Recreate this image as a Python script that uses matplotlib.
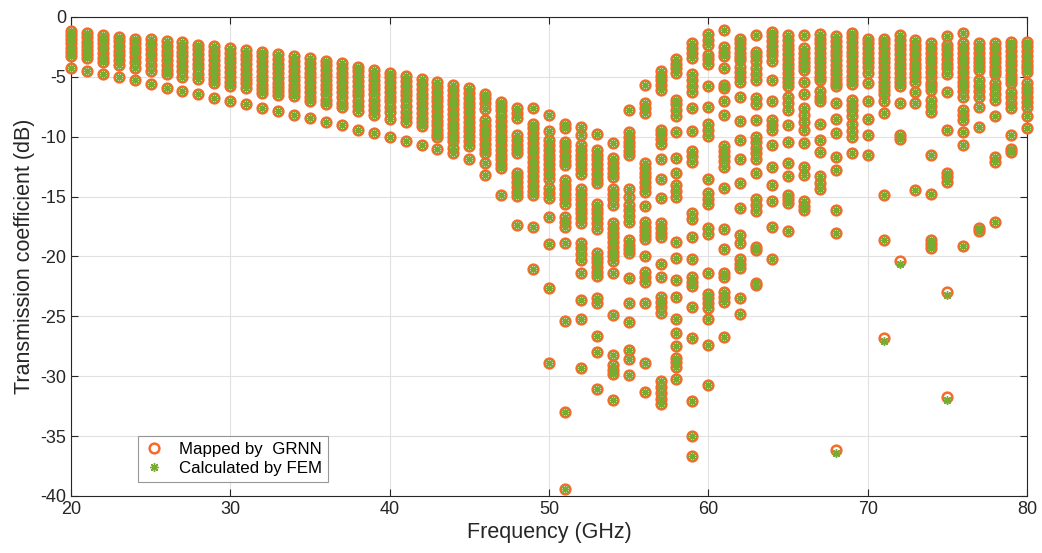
import matplotlib
matplotlib.use("Agg")
import matplotlib.pyplot as plt
from matplotlib.lines import Line2D

# Transmission coefficient (dB) per frequency column.
freqs = list(range(20, 81))

grnn_20_29 = [
    [-1.2, -1.5, -1.85, -2.2, -2.55, -2.9, -3.3, -4.3],
    [-1.35, -1.7, -2.05, -2.4, -2.75, -3.1, -3.45, -4.5],
    [-1.5, -1.85, -2.2, -2.6, -3.0, -3.4, -3.8, -4.8],
    [-1.65, -2.0, -2.4, -2.8, -3.2, -3.6, -4.0, -5.05],
    [-1.8, -2.15, -2.55, -2.95, -3.35, -3.8, -4.3, -5.3],
    [-1.85, -2.25, -2.65, -3.05, -3.5, -4.0, -4.5, -5.6],
    [-2.0, -2.4, -2.8, -3.2, -3.6, -4.0, -4.4, -4.8, -5.9],
    [-2.1, -2.5, -2.9, -3.3, -3.7, -4.1, -4.55, -5.0, -6.15],
    [-2.3, -2.7, -3.1, -3.5, -3.9, -4.3, -4.75, -5.2, -6.45],
    [-2.4, -2.8, -3.2, -3.6, -4.0, -4.4, -4.8, -5.15, -5.5, -6.75],
]
grnn_30_39 = [
    [-2.6, -3.0, -3.4, -3.8, -4.2, -4.6, -5.0, -5.4, -5.75, -7.0],
    [-2.75, -3.15, -3.55, -3.95, -4.35, -4.75, -5.15, -5.55, -5.95, -7.3],
    [-2.9, -3.3, -3.7, -4.1, -4.5, -4.9, -5.3, -5.7, -6.05, -6.35, -7.6],
    [-3.1, -3.5, -3.9, -4.3, -4.7, -5.1, -5.5, -5.85, -6.2, -6.5, -7.85],
    [-3.3, -3.7, -4.1, -4.5, -4.9, -5.3, -5.65, -6.0, -6.3, -6.6, -8.2],
    [-3.45, -3.85, -4.25, -4.65, -5.05, -5.45, -5.85, -6.25, -6.65, -7.05, -8.45],
    [-3.65, -4.05, -4.45, -4.85, -5.25, -5.65, -6.05, -6.45, -6.9, -7.3, -8.75],
    [-3.85, -4.25, -4.65, -5.05, -5.45, -5.85, -6.25, -6.7, -7.15, -7.55, -9.05],
    [-4.15, -4.55, -4.95, -5.35, -5.75, -6.15, -6.55, -7.0, -7.45, -7.85, -9.4],
    [-4.45, -4.85, -5.25, -5.65, -6.05, -6.45, -6.9, -7.35, -7.8, -8.2, -9.7],
]
grnn_40_49 = [
    [-4.65, -5.05, -5.45, -5.85, -6.25, -6.65, -7.05, -7.5, -7.95, -8.5, -10.05],
    [-4.95, -5.35, -5.75, -6.15, -6.55, -6.95, -7.4, -7.9, -8.35, -8.8, -10.35],
    [-5.2, -5.6, -6.0, -6.4, -6.8, -7.2, -7.6, -8.0, -8.4, -8.75, -9.1, -10.7],
    [-5.45, -5.85, -6.25, -6.65, -7.05, -7.45, -7.85, -8.25, -8.65, -9.05,
     -9.45, -9.75, -10.05, -11.05],
    [-5.7, -6.1, -6.5, -6.9, -7.3, -7.7, -8.1, -8.5, -8.9, -9.3, -9.7, -10.05,
     -10.35, -10.95, -11.4],
    [-5.95, -6.35, -6.75, -7.15, -7.55, -7.95, -8.35, -8.75, -9.15, -9.55,
     -9.95, -10.35, -10.75, -11.85],
    [-6.4, -6.8, -7.2, -7.65, -8.6, -9.0, -9.4, -9.8, -10.2, -10.6, -11.0,
     -11.4, -12.2, -13.2],
    [-7.1, -7.45, -7.8, -8.3, -8.7, -9.1, -9.5, -9.9, -10.3, -10.7, -11.1,
     -11.5, -11.9, -12.3, -12.6, -14.9],
    [-7.6, -8.0, -8.45, -9.85, -10.25, -10.65, -11.05, -11.4, -13.0, -13.4,
     -13.8, -14.2, -14.6, -14.95, -17.4],
    [-7.6, -8.9, -9.3, -9.7, -10.1, -10.5, -10.9, -11.3, -11.7, -12.1, -12.5,
     -12.9, -13.3, -13.7, -14.1, -14.5, -14.9, -17.55, -21.05],
]
grnn_50_59 = [
    [-8.2, -9.5, -10.3, -10.7, -11.1, -11.5, -11.9, -12.3, -12.7, -13.1,
     -13.5, -14.3, -14.7, -15.1, -16.7, -18.95, -22.65, -28.9],
    [-8.9, -9.3, -10.4, -10.8, -11.2, -11.6, -12.0, -12.4, -13.6, -14.0,
     -14.4, -14.8, -15.2, -15.6, -16.7, -17.1, -17.55, -18.85, -25.35, -33.0,
     -39.4],
    [-9.2, -9.85, -10.7, -11.1, -11.5, -11.9, -12.3, -12.7, -13.1, -14.4,
     -14.8, -15.2, -15.6, -16.0, -16.4, -16.8, -17.2, -18.9, -19.3, -19.8,
     -20.3, -21.35, -23.6, -25.2, -29.3],
    [-9.8, -11.1, -11.5, -11.9, -12.3, -12.7, -13.1, -13.5, -13.9, -15.6,
     -16.0, -16.4, -16.8, -17.2, -17.7, -19.7, -20.1, -20.5, -20.9, -21.3,
     -21.6, -23.5, -23.85, -26.6, -28.0, -31.05],
    [-10.5, -11.8, -12.2, -12.6, -13.0, -13.4, -14.4, -14.8, -15.2, -15.7,
     -17.2, -17.6, -18.0, -18.4, -18.8, -19.2, -19.6, -20.0, -20.4, -21.4,
     -24.9, -28.2, -29.1, -29.45, -29.8, -32.0],
    [-7.75, -9.6, -10.0, -10.4, -10.8, -11.2, -11.5, -14.4, -15.0, -15.7,
     -16.1, -16.6, -17.1, -18.6, -19.0, -19.35, -19.7, -21.8, -23.9, -25.5,
     -27.8, -28.6, -29.9],
    [-5.65, -7.2, -7.6, -8.0, -12.2, -12.6, -13.0, -13.4, -13.8, -14.2, -14.6,
     -15.8, -17.1, -17.5, -17.9, -18.2, -18.5, -20.0, -21.3, -21.7, -22.1,
     -23.9, -28.9, -31.3],
    [-4.5, -4.9, -5.3, -5.7, -6.1, -9.4, -9.8, -10.2, -10.6, -11.9, -13.5,
     -15.1, -17.2, -17.6, -18.0, -18.4, -20.6, -21.7, -23.4, -23.8, -24.2,
     -24.7, -30.4, -30.9, -31.4, -31.9, -32.35],
    [-3.5, -3.9, -4.3, -4.7, -6.9, -7.3, -7.8, -8.3, -9.6, -11.8, -13.05,
     -14.0, -14.5, -15.0, -18.8, -20.1, -22.0, -23.4, -25.25, -26.4, -27.5,
     -28.5, -28.8, -29.2, -30.2],
    [-2.2, -2.6, -3.0, -3.4, -4.8, -5.3, -5.8, -6.3, -7.6, -9.5, -11.2, -11.6,
     -12.1, -16.4, -16.9, -18.35, -20.2, -21.7, -22.1, -22.5, -24.2, -26.8,
     -32.1, -35.0, -36.7],
]
grnn_60_69 = [
    [-1.4, -1.9, -2.35, -3.2, -3.55, -3.9, -5.8, -7.5, -8.9, -9.4, -9.9,
     -13.55, -14.7, -15.2, -15.6, -17.6, -18.1, -21.35, -23.1, -23.5, -23.9,
     -24.3, -25.2, -27.4, -30.7],
    [-1.1, -2.5, -2.9, -3.3, -4.3, -5.7, -5.95, -7.05, -8.2, -10.8, -11.2,
     -11.6, -12.0, -12.5, -14.3, -17.7, -19.4, -21.4, -21.7, -23.0, -23.4,
     -23.8, -26.7],
    [-1.8, -2.2, -2.6, -3.0, -3.35, -3.6, -4.15, -4.6, -5.0, -5.4, -6.65,
     -8.7, -10.3, -11.9, -13.9, -15.95, -18.2, -18.85, -20.2, -20.6, -21.0,
     -23.5, -24.8],
    [-1.5, -2.9, -3.3, -3.7, -4.3, -4.8, -5.3, -6.8, -7.3, -8.6, -10.0, -10.4,
     -10.9, -11.4, -11.9, -13.05, -15.2, -15.7, -16.2, -19.2, -19.5, -22.2,
     -22.4],
    [-1.25, -1.6, -2.0, -2.4, -2.8, -3.2, -3.7, -5.3, -7.05, -8.6, -9.0, -9.4,
     -10.7, -12.5, -14.0, -15.4, -17.5, -20.2],
    [-1.5, -1.9, -2.3, -2.7, -3.1, -3.5, -3.9, -4.3, -4.7, -5.1, -5.45, -5.8,
     -6.65, -7.2, -7.8, -9.0, -10.4, -12.2, -13.3, -14.9, -15.2, -15.5,
     -17.9],
    [-1.5, -2.6, -3.0, -3.4, -3.8, -4.1, -4.4, -5.4, -6.4, -7.6, -8.2, -8.8,
     -9.4, -10.5, -12.5, -13.2, -15.4, -15.75, -16.1],
    [-1.4, -1.8, -2.2, -2.6, -3.0, -3.4, -3.8, -4.2, -4.6, -5.0, -5.3, -6.2,
     -6.65, -7.05, -8.9, -10.3, -11.25, -13.3, -13.85, -14.4],
    [-1.6, -2.0, -2.4, -2.8, -3.2, -3.6, -4.0, -4.4, -4.8, -5.2, -5.5, -5.8,
     -7.2, -8.5, -9.7, -11.7, -12.8, -16.1, -18.0, -36.2],
    [-1.3, -1.7, -2.1, -2.5, -2.9, -3.3, -3.7, -4.1, -4.5, -4.9, -5.3, -5.6,
     -6.9, -7.35, -7.8, -8.3, -8.9, -9.5, -10.05, -11.4],
]
grnn_70_80 = [
    [-1.8, -2.2, -2.6, -3.0, -3.4, -3.8, -4.2, -4.65, -5.5, -7.05, -8.5,
     -9.85, -11.5],
    [-1.8, -2.2, -2.6, -3.0, -3.4, -3.8, -4.2, -4.6, -5.0, -5.4, -5.8, -6.1,
     -6.4, -7.05, -8.0, -14.9, -18.6, -26.8],
    [-1.5, -1.9, -2.3, -2.7, -3.1, -3.5, -3.9, -4.3, -4.7, -5.1, -5.45, -5.8,
     -7.15, -9.85, -10.15, -20.4],
    [-1.9, -2.3, -2.7, -3.1, -3.5, -3.9, -4.3, -4.7, -5.05, -5.4, -6.25,
     -7.15, -14.45],
    [-2.2, -2.6, -3.0, -3.4, -3.8, -4.2, -4.6, -5.0, -5.5, -5.8, -6.1, -6.9,
     -7.4, -7.9, -11.5, -14.8, -18.6, -18.95, -19.3],
    [-1.6, -2.3, -2.7, -3.1, -3.5, -3.9, -4.3, -4.8, -6.25, -9.4, -13.0,
     -13.4, -13.75, -23.0, -31.75],
    [-1.35, -2.2, -2.6, -3.0, -3.4, -3.8, -4.2, -4.6, -5.0, -5.4, -5.8, -6.2,
     -6.65, -7.8, -8.2, -8.6, -9.6, -10.7, -19.1],
    [-2.2, -2.6, -3.0, -3.4, -3.8, -4.1, -4.4, -5.3, -5.75, -6.2, -6.65, -7.5,
     -9.2, -17.6, -17.9],
    [-2.2, -2.6, -3.0, -3.4, -3.8, -4.2, -4.5, -4.8, -5.5, -5.95, -6.45, -6.9,
     -8.3, -11.7, -12.1, -17.1],
    [-2.05, -2.45, -2.85, -3.25, -3.65, -4.05, -4.45, -4.85, -5.2, -5.5,
     -6.25, -6.7, -7.15, -7.6, -9.85, -11.0, -11.25],
    [-2.05, -2.45, -2.85, -3.25, -3.65, -4.05, -4.3, -4.6, -5.5, -5.9, -6.3,
     -6.7, -7.1, -7.5, -8.3, -9.3],
]

# FEM points sit on the GRNN ones except for these few visible offsets.
fem_shift_freq = [68, 75, 71, 75, 72]
fem_shift_grnn = [-36.2, -31.75, -26.8, -23.0, -20.4]
fem_shift_fem = [-36.45, -32.0, -27.05, -23.2, -20.6]

columns = grnn_20_29 + grnn_30_39 + grnn_40_49 + grnn_50_59 + grnn_60_69 + grnn_70_80

grnn_x, grnn_y = [], []
for f, vals in zip(freqs, columns):
    grnn_x += [f] * len(vals)
    grnn_y += vals

fem_x, fem_y = list(grnn_x), list(grnn_y)
for f, g, v in zip(fem_shift_freq, fem_shift_grnn, fem_shift_fem):
    for i in range(len(fem_x)):
        if fem_x[i] == f and fem_y[i] == g:
            fem_y[i] = v

ORANGE = "#F66A2C"
GREEN = "#77AC30"
TXT = "#262626"

plt.rcParams["font.family"] = ["Liberation Sans", "DejaVu Sans"]
plt.rcParams["axes.unicode_minus"] = False

fig = plt.figure(figsize=(10.42, 5.53), dpi=100)
ax = fig.add_axes([0.0681, 0.1031, 0.9175, 0.8662])

circ = dict(linestyle="none", marker="o", ms=7.0, mew=1.8, mfc="none", mec=ORANGE)
star = dict(linestyle="none", marker=(8, 2, 0), ms=6.2, mew=1.0, color=GREEN)

ax.plot(grnn_x, grnn_y, clip_on=False, zorder=3, **circ)
ax.plot(fem_x, fem_y, clip_on=False, zorder=4, **star)

ax.set_xlim(20, 80)
ax.set_ylim(-40, 0)
ax.set_xticks(range(20, 81, 10))
ax.set_yticks(range(-40, 1, 5))
ax.grid(True, color="#e1e1e1", linewidth=0.8)
ax.set_axisbelow(True)
ax.tick_params(direction="in", length=5, width=0.8, top=True, right=True,
               labelsize=13, colors=TXT, labelcolor=TXT)
for sp in ax.spines.values():
    sp.set_color(TXT)
    sp.set_linewidth(0.8)

ax.set_xlabel("Frequency (GHz)", fontsize=15.5, color=TXT, labelpad=3)
ax.set_ylabel("Transmission coefficient (dB)", fontsize=15.5, color=TXT,
              labelpad=4)

handles = [Line2D([], [], **circ), Line2D([], [], **star)]
leg = ax.legend(handles, ["Mapped by  GRNN", "Calculated by FEM"],
                loc="lower left", bbox_to_anchor=(0.070, 0.029),
                fontsize=12.2, frameon=True, fancybox=False,
                edgecolor="#7f7f7f", handlelength=1.2, handletextpad=0.9,
                borderpad=0.35, labelspacing=0.25, borderaxespad=0)
leg.get_frame().set_linewidth(0.8)

fig.savefig("out.png", dpi=100)
